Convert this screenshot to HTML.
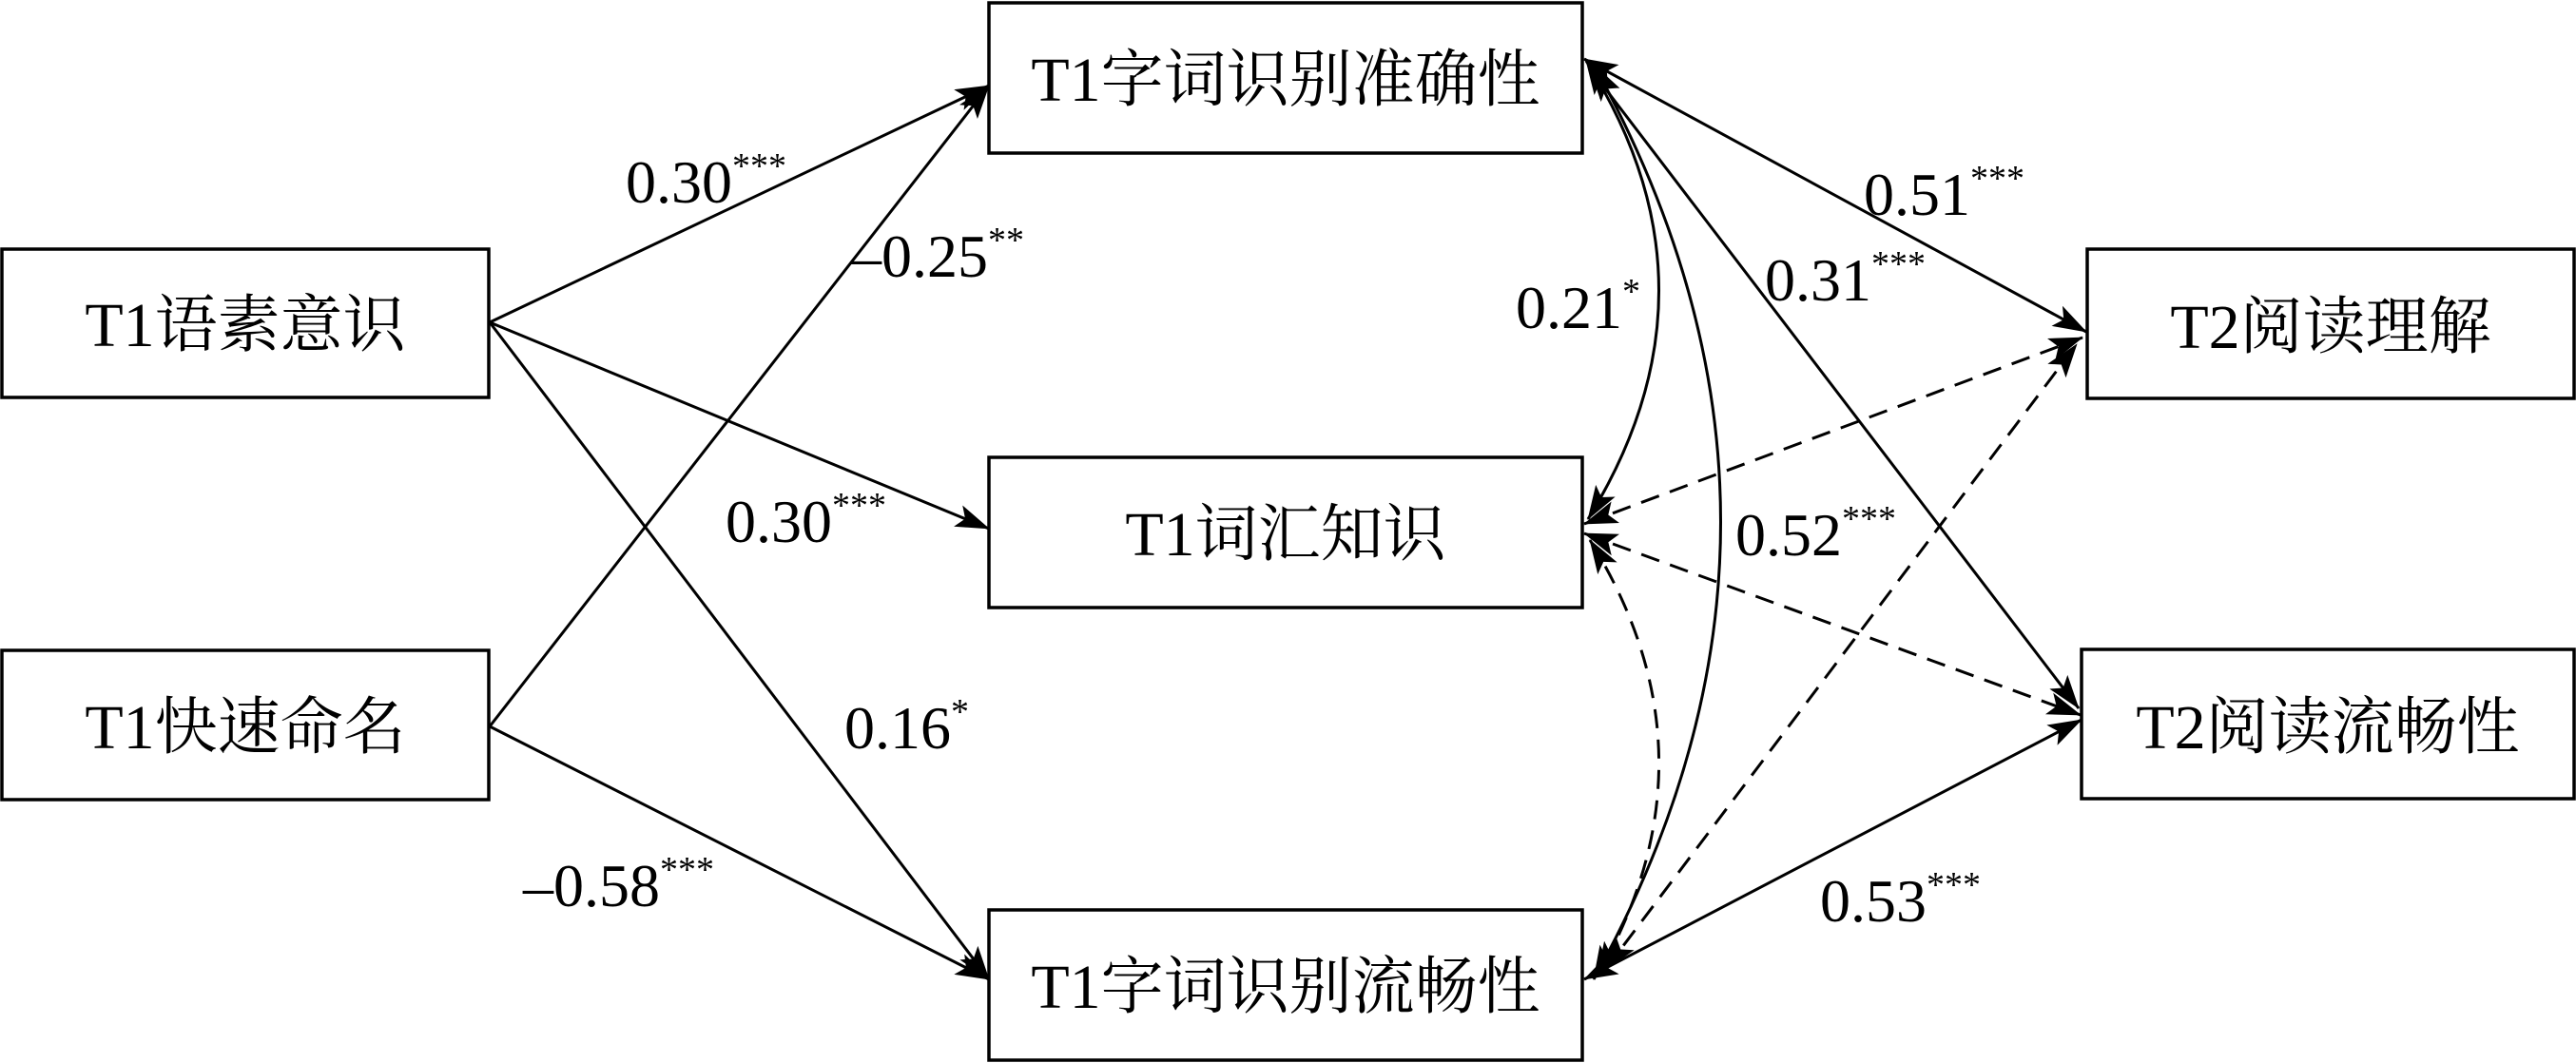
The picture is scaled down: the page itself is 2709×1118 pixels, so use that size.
<!DOCTYPE html>
<html><head><meta charset="utf-8"><style>
html,body{margin:0;padding:0;background:#fff;}
svg{display:block;}
text{font-family:"Liberation Serif","Noto Serif CJK SC",serif;fill:#000;}
</style></head><body>
<svg width="2709" height="1118" viewBox="0 0 2709 1118" xmlns="http://www.w3.org/2000/svg">
<defs>
<marker id="a" viewBox="0 0 36 24" refX="35" refY="12" markerWidth="36" markerHeight="24" markerUnits="userSpaceOnUse" orient="auto-start-reverse">
<path d="M0,0 L36,12 L0,24 L8,12 Z" fill="#000"/>
</marker>
</defs>
<g fill="#fff" stroke="#000" stroke-width="3.5">
<rect x="2" y="262" width="512" height="156"/>
<rect x="2" y="684" width="512" height="157"/>
<rect x="1040" y="3" width="624" height="158"/>
<rect x="1040" y="481" width="624" height="158"/>
<rect x="1040" y="957" width="624" height="158"/>
<rect x="2195" y="262" width="512" height="157"/>
<rect x="2189" y="683" width="518" height="157"/>
</g>
<g font-size="66" text-anchor="middle">
<text x="258" y="364">T1语素意识</text>
<text x="258" y="787">T1快速命名</text>
<text x="1352" y="106">T1字词识别准确性</text>
<text x="1352" y="584">T1词汇知识</text>
<text x="1352" y="1060">T1字词识别流畅性</text>
<text x="2451" y="366">T2阅读理解</text>
<text x="2448" y="787">T2阅读流畅性</text>
</g>
<g stroke="#000" stroke-width="3" fill="none">
<line x1="515" y1="339" x2="1040" y2="90" marker-end="url(#a)"/>
<line x1="515" y1="339" x2="1040" y2="556" marker-end="url(#a)"/>
<line x1="515" y1="339" x2="1040" y2="1030" marker-end="url(#a)"/>
<line x1="515" y1="764" x2="1040" y2="90" marker-end="url(#a)"/>
<line x1="515" y1="764" x2="1040" y2="1030" marker-end="url(#a)"/>
<line x1="1666" y1="62" x2="2194" y2="349" marker-start="url(#a)" marker-end="url(#a)"/>
<line x1="1672" y1="72" x2="2186" y2="745" marker-start="url(#a)" marker-end="url(#a)"/>
<line x1="1666" y1="1030" x2="2189" y2="757" marker-start="url(#a)" marker-end="url(#a)"/>
<path d="M1668,64 Q1820,303 1670,546" marker-start="url(#a)" marker-end="url(#a)"/>
<path d="M1676,68 Q1943,549 1676,1030" marker-start="url(#a)" marker-end="url(#a)"/>
<g stroke-dasharray="20,12">
<line x1="1666" y1="551" x2="2190" y2="355" marker-start="url(#a)" marker-end="url(#a)"/>
<line x1="1666" y1="561" x2="2188" y2="752" marker-start="url(#a)" marker-end="url(#a)"/>
<line x1="1688" y1="1020" x2="2184" y2="362" marker-start="url(#a)" marker-end="url(#a)"/>
<path d="M1672,568 Q1813,795 1680,1026" marker-start="url(#a)" marker-end="url(#a)"/>
</g>
</g>
<g font-size="64">
<text x="658" y="213">0.30<tspan font-size="38" dy="-26">***</tspan></text>
<text x="895" y="291">–0.25<tspan font-size="38" dy="-26">**</tspan></text>
<text x="763" y="570">0.30<tspan font-size="38" dy="-26">***</tspan></text>
<text x="888" y="787">0.16<tspan font-size="38" dy="-26">*</tspan></text>
<text x="550" y="953">–0.58<tspan font-size="38" dy="-26">***</tspan></text>
<text x="1594" y="345">0.21<tspan font-size="38" dy="-26">*</tspan></text>
<text x="1960" y="226">0.51<tspan font-size="38" dy="-26">***</tspan></text>
<text x="1856" y="316">0.31<tspan font-size="38" dy="-26">***</tspan></text>
<text x="1825" y="584">0.52<tspan font-size="38" dy="-26">***</tspan></text>
<text x="1914" y="969">0.53<tspan font-size="38" dy="-26">***</tspan></text>
</g>
</svg>
</body></html>
